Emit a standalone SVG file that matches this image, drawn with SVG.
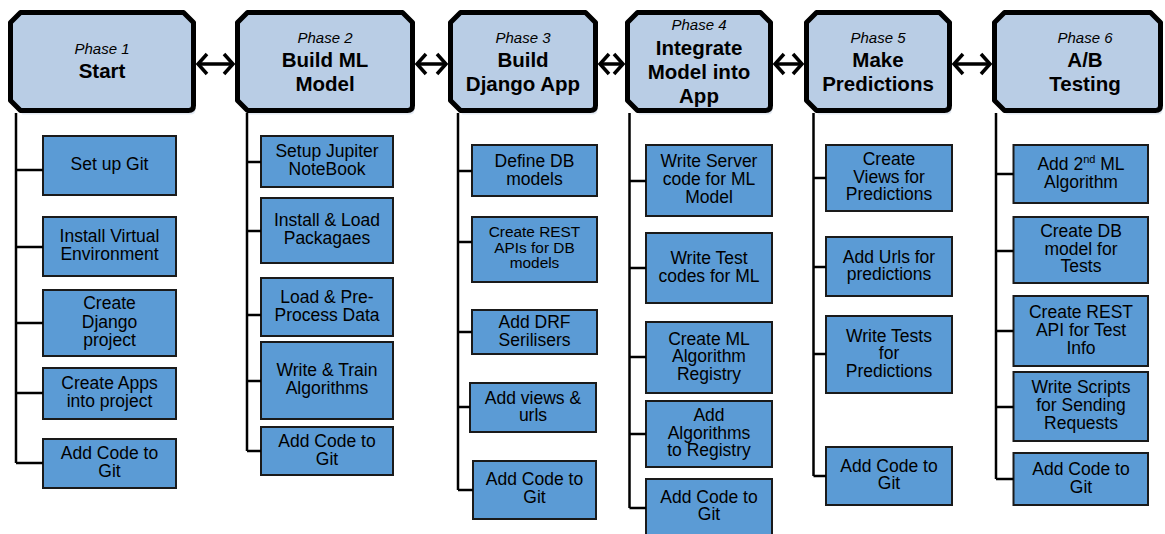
<svg xmlns="http://www.w3.org/2000/svg" width="1165" height="534" viewBox="0 0 1165 534">
<style>
.hdr{fill:#B9CDE5;stroke:#000;stroke-width:5;stroke-linejoin:round}
.sh{fill:#E3E9F2}
.box{fill:#5B9BD5;stroke:#1a1a1a;stroke-width:2}
text{font-family:"Liberation Sans",Arial,sans-serif;fill:#000;text-anchor:middle}
.t{font-size:17.5px}
.ts{font-size:15.4px}
.ph{font-size:15px;font-style:italic}
.ht{font-size:20.5px;font-weight:bold}
.conn{stroke:#000;stroke-width:2.5;fill:none}
.arr{stroke:#000;stroke-width:3.5;fill:none}
</style>
<defs>
<marker id="chev" markerUnits="userSpaceOnUse" markerWidth="16" markerHeight="26" refX="12" refY="13" orient="auto-start-reverse" overflow="visible">
<path d="M3,3 L12,13 L3,23" fill="none" stroke="#000" stroke-width="3.5"/>
</marker>
</defs>

<g id="phase1">
<path class="sh" transform="translate(2,4)" d="M20.5,12.5 L183.5,12.5 L193.5,22.5 L193.5,105.5 Q193.5,110.5 188.5,110.5 L20.5,110.5 L10.5,100.5 L10.5,22.5 Z"/>
<path class="hdr" d="M20.5,12.5 L183.5,12.5 L193.5,22.5 L193.5,105.5 Q193.5,110.5 188.5,110.5 L20.5,110.5 L10.5,100.5 L10.5,22.5 Z"/>
<text class="ph" x="102" y="54">Phase 1</text>
<text class="ht" x="102" y="78">Start</text>
</g>
<g id="phase2">
<path class="sh" transform="translate(2,4)" d="M247.5,12.5 L402.5,12.5 L412.5,22.5 L412.5,105.5 Q412.5,110.5 407.5,110.5 L247.5,110.5 L237.5,100.5 L237.5,22.5 Z"/>
<path class="hdr" d="M247.5,12.5 L402.5,12.5 L412.5,22.5 L412.5,105.5 Q412.5,110.5 407.5,110.5 L247.5,110.5 L237.5,100.5 L237.5,22.5 Z"/>
<text class="ph" x="325" y="43">Phase 2</text>
<text class="ht" x="325" y="67">Build ML</text>
<text class="ht" x="325" y="91">Model</text>
</g>
<g id="phase3">
<path class="sh" transform="translate(2,4)" d="M460.5,12.5 L585.5,12.5 L595.5,22.5 L595.5,105.5 Q595.5,110.5 590.5,110.5 L460.5,110.5 L450.5,100.5 L450.5,22.5 Z"/>
<path class="hdr" d="M460.5,12.5 L585.5,12.5 L595.5,22.5 L595.5,105.5 Q595.5,110.5 590.5,110.5 L460.5,110.5 L450.5,100.5 L450.5,22.5 Z"/>
<text class="ph" x="523" y="43">Phase 3</text>
<text class="ht" x="523" y="67">Build</text>
<text class="ht" x="523" y="91">Django App</text>
</g>
<g id="phase4">
<path class="sh" transform="translate(2,4)" d="M637.5,12.5 L760.5,12.5 L770.5,22.5 L770.5,105.5 Q770.5,110.5 765.5,110.5 L637.5,110.5 L627.5,100.5 L627.5,22.5 Z"/>
<path class="hdr" d="M637.5,12.5 L760.5,12.5 L770.5,22.5 L770.5,105.5 Q770.5,110.5 765.5,110.5 L637.5,110.5 L627.5,100.5 L627.5,22.5 Z"/>
<text class="ph" x="699" y="30">Phase 4</text>
<text class="ht" x="699" y="54.5">Integrate</text>
<text class="ht" x="699" y="78.5">Model into</text>
<text class="ht" x="699" y="102.5">App</text>
</g>
<g id="phase5">
<path class="sh" transform="translate(2,4)" d="M816.5,12.5 L939.5,12.5 L949.5,22.5 L949.5,105.5 Q949.5,110.5 944.5,110.5 L816.5,110.5 L806.5,100.5 L806.5,22.5 Z"/>
<path class="hdr" d="M816.5,12.5 L939.5,12.5 L949.5,22.5 L949.5,105.5 Q949.5,110.5 944.5,110.5 L816.5,110.5 L806.5,100.5 L806.5,22.5 Z"/>
<text class="ph" x="878" y="43">Phase 5</text>
<text class="ht" x="878" y="67">Make</text>
<text class="ht" x="878" y="91">Predictions</text>
</g>
<g id="phase6">
<path class="sh" transform="translate(2,4)" d="M1004.5,12.5 L1150.5,12.5 L1160.5,22.5 L1160.5,105.5 Q1160.5,110.5 1155.5,110.5 L1004.5,110.5 L994.5,100.5 L994.5,22.5 Z"/>
<path class="hdr" d="M1004.5,12.5 L1150.5,12.5 L1160.5,22.5 L1160.5,105.5 Q1160.5,110.5 1155.5,110.5 L1004.5,110.5 L994.5,100.5 L994.5,22.5 Z"/>
<text class="ph" x="1085" y="43">Phase 6</text>
<text class="ht" x="1085" y="67">A/B</text>
<text class="ht" x="1085" y="91">Testing</text>
</g>

<g id="p1-git"><rect class="box" x="43" y="136" width="133" height="59"/><text class="t" x="109.5" y="170">Set up Git</text></g>
<g id="p1-venv"><rect class="box" x="43" y="217" width="133" height="59"/><text class="t" x="109.5" y="242">Install Virtual</text><text class="t" x="109.5" y="260">Environment</text></g>
<g id="p1-django"><rect class="box" x="43" y="290" width="133" height="66"/><text class="t" x="109.5" y="309">Create</text><text class="t" x="109.5" y="327.5">Django</text><text class="t" x="109.5" y="346">project</text></g>
<g id="p1-apps"><rect class="box" x="43" y="368" width="133" height="51"/><text class="t" x="109.5" y="389">Create Apps</text><text class="t" x="109.5" y="407">into project</text></g>
<g id="p1-code"><rect class="box" x="43" y="439" width="133" height="49"/><text class="t" x="109.5" y="459">Add Code to</text><text class="t" x="109.5" y="477">Git</text></g>

<g id="p2-jupyter"><rect class="box" x="261" y="136" width="132" height="51"/><text class="t" x="327" y="157">Setup Jupiter</text><text class="t" x="327" y="174.5">NoteBook</text></g>
<g id="p2-packages"><rect class="box" x="261" y="198" width="132" height="65"/><text class="t" x="327" y="226">Install &amp; Load</text><text class="t" x="327" y="243.5">Packagaes</text></g>
<g id="p2-data"><rect class="box" x="261" y="278" width="132" height="58"/><text class="t" x="327" y="303">Load &amp; Pre-</text><text class="t" x="327" y="320.5">Process Data</text></g>
<g id="p2-train"><rect class="box" x="261" y="342" width="132" height="77"/><text class="t" x="327" y="376">Write &amp; Train</text><text class="t" x="327" y="393.5">Algorithms</text></g>
<g id="p2-code"><rect class="box" x="261" y="427" width="132" height="48"/><text class="t" x="327" y="447">Add Code to</text><text class="t" x="327" y="464.5">Git</text></g>

<g id="p3-db"><rect class="box" x="472" y="145" width="125" height="51"/><text class="t" x="534.5" y="167">Define DB</text><text class="t" x="534.5" y="184.5">models</text></g>
<g id="p3-rest"><rect class="box" x="472" y="217" width="125" height="65"/><text class="ts" x="534.5" y="237">Create REST</text><text class="ts" x="534.5" y="252.5">APIs for DB</text><text class="ts" x="534.5" y="268">models</text></g>
<g id="p3-drf"><rect class="box" x="472" y="310" width="125" height="44"/><text class="t" x="534.5" y="328">Add DRF</text><text class="t" x="534.5" y="346">Serilisers</text></g>
<g id="p3-views"><rect class="box" x="470" y="383" width="126" height="49"/><text class="t" x="533" y="403.5">Add views &amp;</text><text class="t" x="533" y="420.5">urls</text></g>
<g id="p3-code"><rect class="box" x="473" y="461" width="123" height="58"/><text class="t" x="534.5" y="485">Add Code to</text><text class="t" x="534.5" y="502.5">Git</text></g>

<g id="p4-server"><rect class="box" x="646" y="145" width="126" height="71"/><text class="t" x="709" y="166.5">Write Server</text><text class="t" x="709" y="184.5">code for ML</text><text class="t" x="709" y="202.5">Model</text></g>
<g id="p4-test"><rect class="box" x="646" y="233" width="126" height="70"/><text class="t" x="709" y="263.5">Write Test</text><text class="t" x="709" y="281.5">codes for ML</text></g>
<g id="p4-registry"><rect class="box" x="646" y="322" width="126" height="71"/><text class="t" x="709" y="345">Create ML</text><text class="t" x="709" y="362">Algorithm</text><text class="t" x="709" y="379.5">Registry</text></g>
<g id="p4-add"><rect class="box" x="646" y="401" width="126" height="66"/><text class="t" x="709" y="421">Add</text><text class="t" x="709" y="438.5">Algorithms</text><text class="t" x="709" y="456">to Registry</text></g>
<g id="p4-code"><rect class="box" x="646" y="479" width="126" height="60"/><text class="t" x="709" y="502.5">Add Code to</text><text class="t" x="709" y="520">Git</text></g>

<g id="p5-views"><rect class="box" x="826" y="145" width="126" height="66"/><text class="t" x="889" y="165">Create</text><text class="t" x="889" y="182.5">Views for</text><text class="t" x="889" y="200">Predictions</text></g>
<g id="p5-urls"><rect class="box" x="826" y="237" width="126" height="59"/><text class="t" x="889" y="262.5">Add Urls for</text><text class="t" x="889" y="280">predictions</text></g>
<g id="p5-tests"><rect class="box" x="826" y="316" width="126" height="77"/><text class="t" x="889" y="341.5">Write Tests</text><text class="t" x="889" y="359">for</text><text class="t" x="889" y="376.5">Predictions</text></g>
<g id="p5-code"><rect class="box" x="826" y="447" width="126" height="58"/><text class="t" x="889" y="471.5">Add Code to</text><text class="t" x="889" y="488.5">Git</text></g>

<g id="p6-algo"><rect class="box" x="1013.5" y="145" width="134.5" height="58"/><text class="t" x="1081" y="169.5">Add 2<tspan font-size="11" dy="-7">nd</tspan><tspan dy="7"> ML</tspan></text><text class="t" x="1081" y="187.5">Algorithm</text></g>
<g id="p6-db"><rect class="box" x="1013.5" y="217" width="134.5" height="66"/><text class="t" x="1081" y="236.5">Create DB</text><text class="t" x="1081" y="254.5">model for</text><text class="t" x="1081" y="272">Tests</text></g>
<g id="p6-rest"><rect class="box" x="1013.5" y="296" width="134.5" height="70"/><text class="t" x="1081" y="318">Create REST</text><text class="t" x="1081" y="336">API for Test</text><text class="t" x="1081" y="354">Info</text></g>
<g id="p6-scripts"><rect class="box" x="1013.5" y="372" width="134.5" height="69"/><text class="t" x="1081" y="392.5">Write Scripts</text><text class="t" x="1081" y="410.5">for Sending</text><text class="t" x="1081" y="428.5">Requests</text></g>
<g id="p6-code"><rect class="box" x="1013.5" y="453" width="134.5" height="52"/><text class="t" x="1081" y="475">Add Code to</text><text class="t" x="1081" y="492.5">Git</text></g>

<g id="connectors">
<path class="conn" d="M16,113 V463 M16,170 H43 M16,247 H43 M16,323 H43 M16,393 H43 M16,463 H43"/>
<path class="conn" d="M247,113 V451 M247,162 H261 M247,231 H261 M247,315 H261 M247,381 H261 M247,451 H261"/>
<path class="conn" d="M458,113 V490 M458,171 H472 M458,242 H472 M458,332 H472 M458,407 H470 M458,490 H473"/>
<path class="conn" d="M629.5,113 V508 M629.5,181 H646 M629.5,268 H646 M629.5,357 H646 M629.5,434 H646 M629.5,508 H646"/>
<path class="conn" d="M813.5,113 V476 M813.5,178 H826 M813.5,267 H826 M813.5,354 H826 M813.5,476 H826"/>
<path class="conn" d="M996,113 V479 M996,174 H1013.5 M996,251 H1013.5 M996,331 H1013.5 M996,407 H1013.5 M996,479 H1013.5"/>
<line class="arr" x1="198" y1="64" x2="233" y2="64" marker-start="url(#chev)" marker-end="url(#chev)"/>
<line class="arr" x1="417" y1="64" x2="446" y2="64" marker-start="url(#chev)" marker-end="url(#chev)"/>
<line class="arr" x1="600" y1="64" x2="623" y2="64" marker-start="url(#chev)" marker-end="url(#chev)"/>
<line class="arr" x1="775" y1="64" x2="802" y2="64" marker-start="url(#chev)" marker-end="url(#chev)"/>
<line class="arr" x1="954" y1="64" x2="990" y2="64" marker-start="url(#chev)" marker-end="url(#chev)"/>
</g>
</svg>
